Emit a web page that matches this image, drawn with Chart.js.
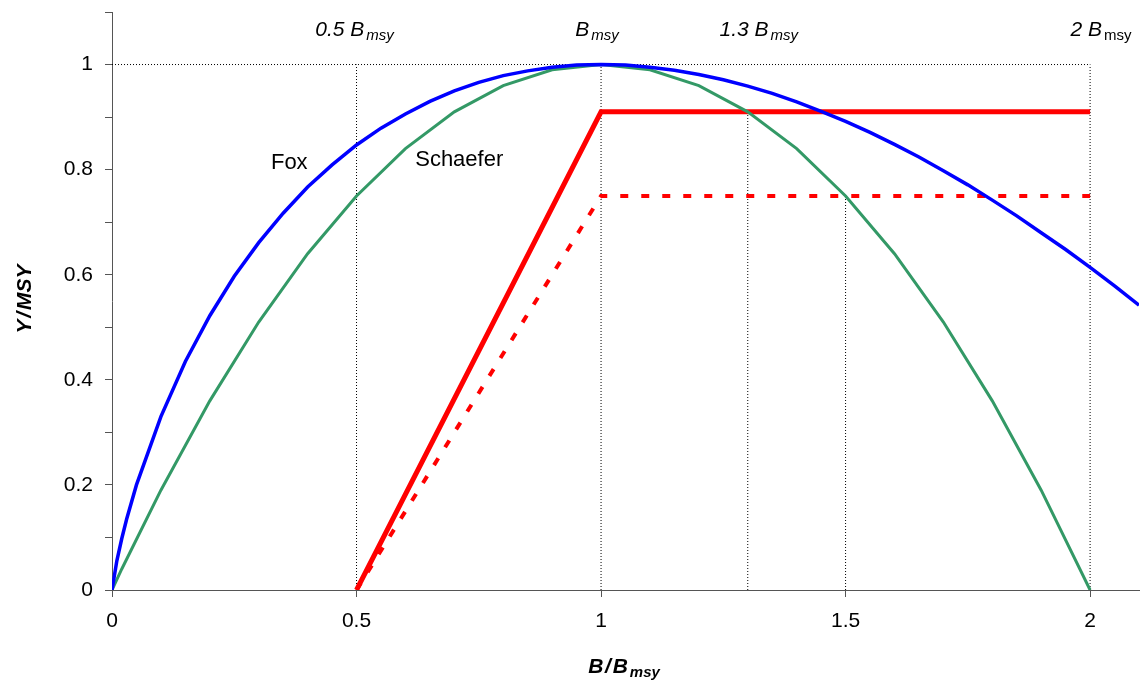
<!DOCTYPE html>
<html>
<head>
<meta charset="utf-8">
<script src="https://cdn.jsdelivr.net/npm/chart.js@4/dist/chart.umd.min.js"></script>
<style>
  body { margin: 0; background: #fff; }
  #wrap { width: 1144px; height: 697px; }
</style>
</head>
<body>
<div id="wrap"><canvas id="chart"></canvas></div>
<script>
// values
const foxX = [0, 0.01, 0.02, 0.03, 0.05, 0.1, 0.15, 0.2, 0.25, 0.3, 0.35, 0.4, 0.45, 0.5, 0.55, 0.6, 0.65, 0.7, 0.75, 0.8, 0.85, 0.9, 0.95, 1, 1.05, 1.1, 1.15, 1.2, 1.25, 1.3, 1.35, 1.4, 1.45, 1.5, 1.55, 1.6, 1.65, 1.7, 1.75, 1.8, 1.85, 1.9, 1.95, 2, 2.05, 2.1];
const foxY = [0, 0.056, 0.098, 0.135, 0.2, 0.33, 0.435, 0.522, 0.597, 0.661, 0.717, 0.767, 0.809, 0.847, 0.879, 0.906, 0.93, 0.95, 0.966, 0.979, 0.988, 0.995, 0.999, 1, 0.999, 0.995, 0.989, 0.981, 0.971, 0.959, 0.945, 0.929, 0.911, 0.892, 0.871, 0.848, 0.824, 0.798, 0.771, 0.742, 0.712, 0.68, 0.648, 0.614, 0.579, 0.542];
const schaeferX = [0, 0.02, 0.1, 0.2, 0.3, 0.4, 0.5, 0.6, 0.7, 0.8, 0.9, 1, 1.1, 1.2, 1.3, 1.4, 1.5, 1.6, 1.7, 1.8, 1.9, 2];
const schaeferY = [0, 0.04, 0.19, 0.36, 0.51, 0.64, 0.75, 0.84, 0.91, 0.96, 0.99, 1, 0.99, 0.96, 0.91, 0.84, 0.75, 0.64, 0.51, 0.36, 0.19, 0];
const ruleX = [0.5, 1, 2];
const ruleY = [0, 0.91, 0.91];
const rule2X = [0.5, 1, 2];
const rule2Y = [0, 0.75, 0.75];

// dotted guide lines: vertical at refX up to refTop, horizontal at y = 1
const refX = [0.5, 1, 1.3, 1.5, 2];
const refTop = [1, 1, 0.91, 0.75, 1];
const hLineX = [0, 2];
const hLineY = [1, 1];

const xTicks = [0, 0.5, 1, 1.5, 2];
const yTicks = [0, 0.1, 0.2, 0.3, 0.4, 0.5, 0.6, 0.7, 0.8, 0.9, 1, 1.1];
const yTickLabels = ['0', '', '0.2', '', '0.4', '', '0.6', '', '0.8', '', '1', ''];

const topLabels = [
  { x: 0.5, pre: '0.5 B', sub: 'msy', dx: -2, italicSub: true },
  { x: 1, pre: 'B', sub: 'msy', dx: -4, italicSub: true },
  { x: 1.3, pre: '1.3 B', sub: 'msy', dx: 11, italicSub: true },
  { x: 2, pre: '2 B', sub: 'msy', dx: 11, italicSub: false }
];
const curveLabels = [
  { text: 'Fox', x: 0.325, y: 0.802 },
  { text: 'Schaefer', x: 0.62, y: 0.806 }
];

const FONT = '"Liberation Sans", Arial, sans-serif';

function pts(xs, ys) {
  return xs.map((x, i) => ({ x, y: ys[i] }));
}

const datasets = [
  { data: pts(foxX, foxY), borderColor: '#0000ff', borderWidth: 3.5, order: 0 },
  { data: pts(schaeferX, schaeferY), borderColor: '#339966', borderWidth: 3, order: 1 },
  { data: pts(ruleX, ruleY), borderColor: '#ff0000', borderWidth: 5, order: 2 },
  { data: pts(rule2X, rule2Y), borderColor: '#ff0000', borderWidth: 4, borderDash: [8, 13], order: 3 },
  { data: pts(hLineX, hLineY), borderColor: '#000', borderWidth: 1, borderDash: [1, 2], order: 10 }
];
refX.forEach((x, i) => {
  datasets.push({ data: [{ x, y: 0 }, { x, y: refTop[i] }], borderColor: '#000', borderWidth: 1, borderDash: [1, 2], order: 10 });
});
datasets.forEach(d => { d.pointRadius = 0; d.fill = false; d.tension = 0; });

function drawSub(ctx, x, y, pre, sub, preFont, subFont, subDy, align) {
  ctx.font = preFont;
  const w1 = ctx.measureText(pre).width;
  ctx.font = subFont;
  const w2 = ctx.measureText(sub).width;
  const gap = 2;
  let left = x;
  if (align === 'center') left = x - (w1 + gap + w2) / 2;
  ctx.textAlign = 'left';
  ctx.textBaseline = 'alphabetic';
  ctx.font = preFont;
  ctx.fillText(pre, left, y);
  ctx.font = subFont;
  ctx.fillText(sub, left + w1 + gap, y + subDy);
}

const textPlugin = {
  id: 'texts',
  afterDraw(chart) {
    const ctx = chart.ctx;
    const xs = chart.scales.x;
    const ys = chart.scales.y;
    ctx.save();
    ctx.fillStyle = '#000';
    topLabels.forEach(l => {
      const px = xs.getPixelForValue(l.x) + l.dx;
      const py = ys.getPixelForValue(1.055);
      drawSub(ctx, px, py, l.pre, l.sub, 'italic 21px ' + FONT,
        (l.italicSub ? 'italic ' : '') + '15px ' + FONT, 4, 'center');
    });
    curveLabels.forEach(l => {
      ctx.font = '22px ' + FONT;
      ctx.textAlign = 'left';
      ctx.textBaseline = 'alphabetic';
      ctx.fillText(l.text, xs.getPixelForValue(l.x), ys.getPixelForValue(l.y));
    });
    // axis titles
    drawSub(ctx, 624, 673, 'B\u200A/\u200AB', 'msy', 'italic bold 21px ' + FONT, 'italic bold 15px ' + FONT, 4, 'center');
    ctx.translate(31, 299);
    ctx.rotate(-Math.PI / 2);
    ctx.font = 'italic bold 21px ' + FONT;
    ctx.textAlign = 'center';
    ctx.textBaseline = 'alphabetic';
    ctx.fillText('Y\u200A/\u200AMSY', 0, 0);
    ctx.restore();
  }
};

new Chart(document.getElementById('chart'), {
  type: 'line',
  data: { datasets },
  plugins: [textPlugin],
  options: {
    responsive: true,
    maintainAspectRatio: false,
    animation: false,
    layout: { padding: { top: 12, right: 5, left: 0, bottom: 0 } },
    plugins: { legend: { display: false }, tooltip: { enabled: false } },
    scales: {
      x: {
        type: 'linear',
        min: 0,
        max: 2.1,
        afterBuildTicks: axis => { axis.ticks = xTicks.map(v => ({ value: v })); },
        afterFit: axis => { axis.height = 107; },
        ticks: {
          color: '#000',
          font: { family: FONT, size: 21 },
          padding: 12,
          maxRotation: 0,
          callback: v => String(v)
        },
        grid: { drawOnChartArea: false, drawTicks: true, tickLength: 7, color: '#555' },
        border: { color: '#555', width: 1 }
      },
      y: {
        min: 0,
        max: 1.1,
        afterBuildTicks: axis => { axis.ticks = yTicks.map(v => ({ value: v })); },
        afterFit: axis => { axis.width = 112; axis.paddingTop = 0; axis.paddingBottom = 0; },
        ticks: {
          color: '#000',
          font: { family: FONT, size: 21 },
          padding: 12,
          autoSkip: false,
          callback: (v, i) => yTickLabels[i]
        },
        grid: { drawOnChartArea: false, drawTicks: true, tickLength: 7, color: '#555' },
        border: { color: '#555', width: 1 }
      }
    }
  }
});
</script>
</body>
</html>
